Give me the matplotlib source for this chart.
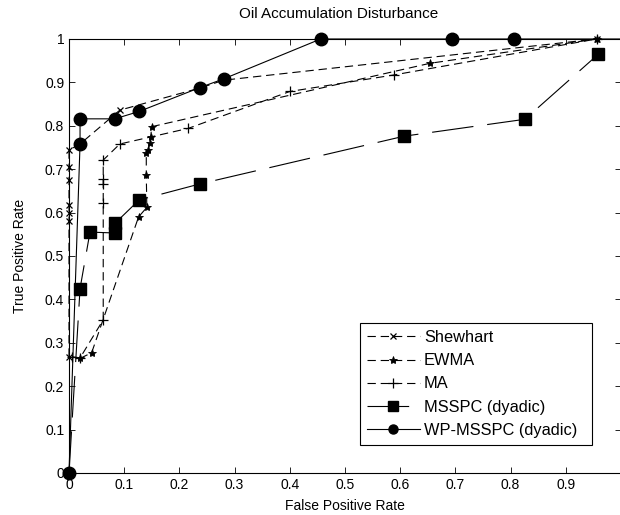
import matplotlib
matplotlib.use("Agg")
import matplotlib.pyplot as plt

plt.rcParams['font.family'] = ['Liberation Sans', 'DejaVu Sans']
plt.rcParams['lines.scale_dashes'] = False

# ROC points (false positive rate, true positive rate)
shew_fpr = [0.0, 0.0, 0.0, 0.0, 0.0, 0.0, 0.0, 0.02, 0.092, 0.24, 0.28, 0.956]
shew_tpr = [0.268, 0.58, 0.60, 0.617, 0.675, 0.706, 0.744, 0.758, 0.836, 0.888, 0.905, 1.0]

ewma_fpr = [0.02, 0.041, 0.126, 0.141, 0.14, 0.14, 0.144, 0.146, 0.148, 0.15, 0.654, 0.956]
ewma_tpr = [0.264, 0.277, 0.59, 0.612, 0.687, 0.737, 0.744, 0.76, 0.775, 0.798, 0.944, 1.0]

ma_fpr = [0.005, 0.02, 0.062, 0.062, 0.062, 0.062, 0.062, 0.092, 0.216, 0.40, 0.588, 0.956]
ma_tpr = [0.268, 0.265, 0.353, 0.623, 0.667, 0.677, 0.721, 0.758, 0.794, 0.879, 0.917, 1.0]

mss_fpr = [0.0, 0.02, 0.038, 0.083, 0.083, 0.127, 0.237, 0.607, 0.826, 0.959]
mss_tpr = [0.0, 0.425, 0.555, 0.553, 0.575, 0.629, 0.666, 0.776, 0.815, 0.965]

wp_fpr = [0.0, 0.02, 0.02, 0.083, 0.127, 0.237, 0.28, 0.456, 0.694, 0.806, 1.0]
wp_tpr = [0.0, 0.758, 0.816, 0.816, 0.833, 0.888, 0.908, 1.0, 1.0, 1.0, 1.0]

tick_vals = [i / 10 for i in range(11)]
xtick_labels = ['0', '0.1', '0.2', '0.3', '0.4', '0.5', '0.6', '0.7', '0.8', '0.9', '']
ytick_labels = ['0', '0.1', '0.2', '0.3', '0.4', '0.5', '0.6', '0.7', '0.8', '0.9', '1']

fig = plt.figure(figsize=(6.2, 5.15), dpi=100)
ax = fig.add_axes([0.1113, 0.0816, 0.8903, 0.8427])

short = (0, (6, 3.5))
ax.plot(shew_fpr, shew_tpr, color='k', lw=0.8, linestyle=short, marker='x',
        markersize=4, mew=0.9, label='Shewhart', clip_on=False)
ax.plot(ewma_fpr, ewma_tpr, color='k', lw=0.8, linestyle=short, marker='*',
        markersize=6, mew=0.6, label='EWMA', clip_on=False)
ax.plot(ma_fpr, ma_tpr, color='k', lw=0.8, linestyle=short, marker='+',
        markersize=7, mew=0.9, label='MA', clip_on=False)
# origin point is hidden under the WP-MSSPC circle in the original
ax.plot(mss_fpr, mss_tpr, color='k', lw=0.8, linestyle=(0, (30, 10)), marker='s',
        markersize=8.5, markevery=list(range(1, len(mss_fpr))),
        label='MSSPC (dyadic)', clip_on=False)
ax.plot(wp_fpr, wp_tpr, color='k', lw=0.8, linestyle='-', marker='o',
        markersize=9, markevery=list(range(len(wp_fpr) - 1)),
        label='WP-MSSPC (dyadic)', clip_on=False)

ax.set_xlim(0, 1)
ax.set_ylim(0, 1)
ax.set_xticks(tick_vals)
ax.set_xticklabels(xtick_labels)
ax.set_yticks(tick_vals)
ax.set_yticklabels(ytick_labels)
ax.tick_params(direction='in', top=True, right=True, labelsize=10, length=4, width=0.6)
for s in ax.spines.values():
    s.set_linewidth(0.8)

ax.set_xlabel('False Positive Rate', fontsize=10, labelpad=5)
ax.set_ylabel('True Positive Rate', fontsize=10, labelpad=13)
ax.set_title('Oil Accumulation Disturbance', fontsize=11, pad=15, x=0.488)

leg = ax.legend(loc='upper left', bbox_to_anchor=(0.527, 0.0606, 0.420, 0.2857),
                mode='expand', fontsize=11.8, handlelength=3.2, numpoints=1,
                fancybox=False, edgecolor='k', framealpha=1, borderpad=0.45,
                labelspacing=0.5, handletextpad=0.25, borderaxespad=0)
leg.get_frame().set_linewidth(0.8)
for h in leg.legend_handles:
    if h.get_marker() in ('o', 's'):
        h.set_markersize(6.5)

fig.savefig('out.png', dpi=100)
